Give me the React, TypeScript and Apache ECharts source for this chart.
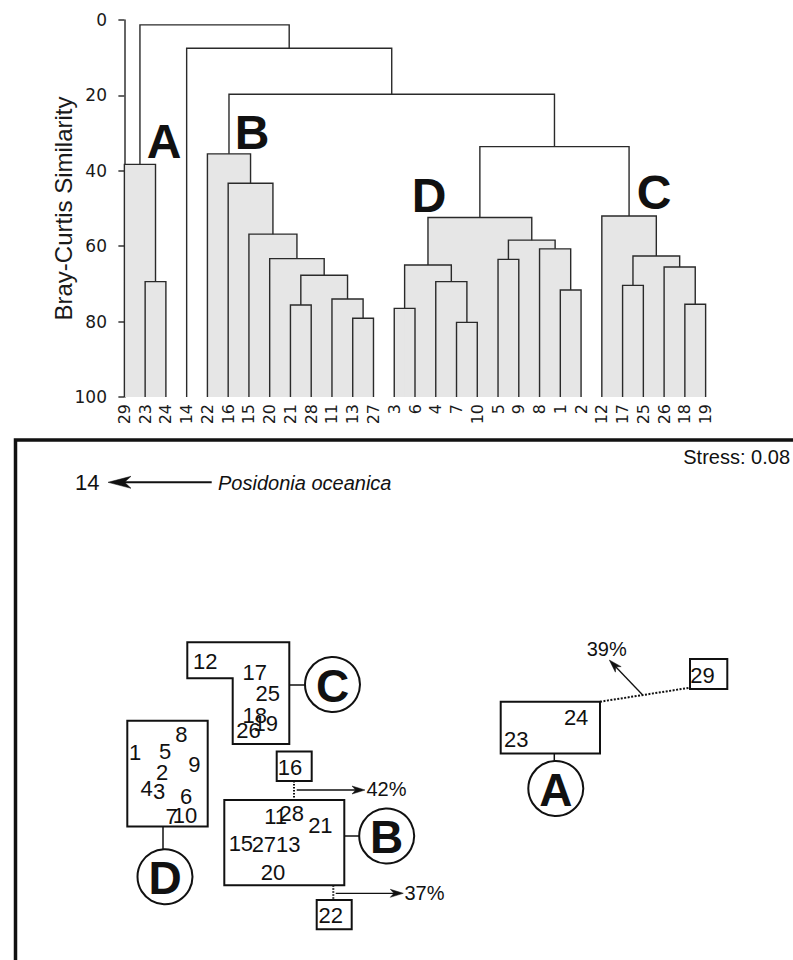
import React, { useEffect, useRef } from "react";
import * as echarts from "echarts";

// ---------- Dendrogram data ----------
const leaves = ["29","23","24","14","22","16","15","20","21","28","11","13","27","3","6","4","7","10","5","9","8","1","2","12","17","25","26","18","19"];

// [node, left child, right child, Bray-Curtis similarity of the join]
const merges: [string, string, string, number][] = [
  ["a1", "23", "24", 69.4],
  ["A", "29", "a1", 38.3],
  ["b1", "13", "27", 79.1],
  ["b2", "11", "b1", 74.0],
  ["b3", "21", "28", 75.6],
  ["b4", "b3", "b2", 67.7],
  ["b5", "20", "b4", 63.3],
  ["b6", "15", "b5", 56.8],
  ["b7", "16", "b6", 43.3],
  ["B", "22", "b7", 35.5],
  ["d1", "3", "6", 76.5],
  ["d2", "7", "10", 80.2],
  ["d3", "4", "d2", 69.4],
  ["d4", "d1", "d3", 65.0],
  ["d5", "5", "9", 63.5],
  ["d6", "1", "2", 71.6],
  ["d7", "8", "d6", 60.7],
  ["d8", "d5", "d7", 58.4],
  ["D", "d4", "d8", 52.4],
  ["c1", "17", "25", 70.4],
  ["c2", "18", "19", 75.4],
  ["c3", "26", "c2", 65.5],
  ["c4", "c1", "c3", 62.6],
  ["C", "12", "c4", 52.0],
  ["DC", "D", "C", 33.6],
  ["BDC", "B", "DC", 19.7],
  ["R2", "14", "BDC", 7.5],
  ["root", "A", "R2", 1.3],
];
const shadedClusters = ["A", "B", "C", "D"];
const simMin = 0;
const simMax = 100;
const simStep = 20;

// ---------- MDS ordination data ----------
const mdsLabels = ["14","12","17","25","18","26","19","8","1","5","9","2","4","3","6","7","10","16","11","28","21","15","27","13","20","22","24","23","29"];
const mdsX = [-1.56,-0.965,-0.715,-0.65,-0.715,-0.746,-0.66,-1.085,-1.318,-1.167,-1.019,-1.182,-1.261,-1.197,-1.061,-1.134,-1.067,-0.537,-0.61,-0.528,-0.384,-0.785,-0.669,-0.546,-0.623,-0.332,0.906,0.604,1.544];
const mdsY = [1.088,0.195,0.139,0.035,-0.075,-0.153,-0.117,-0.171,-0.261,-0.259,-0.323,-0.363,-0.44,-0.455,-0.483,-0.581,-0.575,-0.337,-0.58,-0.568,-0.627,-0.717,-0.722,-0.72,-0.863,-1.077,-0.086,-0.196,0.125];
const stressText = "Stress: 0.08";
const pctLabels = ["42%", "37%", "39%"];

const INK = "#111";
const SANS = "Liberation Sans, Arial, sans-serif";

function arrowHead(tx: number, ty: number, fx: number, fy: number, len: number, half: number) {
  const d = Math.hypot(tx - fx, ty - fy);
  const ux = (tx - fx) / d, uy = (ty - fy) / d;
  const px = -uy, py = ux;
  const bx = tx - ux * len, by = ty - uy * len;
  const nx = tx - ux * len * 0.72, ny = ty - uy * len * 0.72;
  return {
    type: "polygon",
    shape: { points: [[tx, ty], [bx + px * half, by + py * half], [nx, ny], [bx - px * half, by - py * half]] },
    style: { fill: INK, stroke: INK, lineWidth: 0.5 },
  };
}
function line(x1: number, y1: number, x2: number, y2: number, w = 1.3, dash?: number[]) {
  return { type: "line", shape: { x1, y1, x2, y2 }, style: { stroke: INK, lineWidth: w, lineDash: dash } };
}
function box(x: number, y: number, w: number, h: number) {
  return { type: "rect", shape: { x, y, width: w, height: h }, style: { fill: "none", stroke: INK, lineWidth: 2 } };
}
function text(t: string, x: number, y: number, size: number, opts: any = {}) {
  return {
    type: "text", x, y, z: 10,
    style: { text: t, fontSize: size, fontFamily: SANS, fill: INK, align: "center", verticalAlign: "middle", ...opts },
  };
}
function badge(letter: string, cx: number, cy: number) {
  return [
    { type: "circle", shape: { cx, cy, r: 27.5 }, style: { fill: "#fff", stroke: INK, lineWidth: 2 } },
    text(letter, cx, cy + 1, 46, { fontWeight: "bold" }),
  ];
}

export default function App() {
  const ref = useRef<HTMLDivElement>(null);
  useEffect(() => {
    if (!ref.current) return;
    const chart = echarts.init(ref.current, undefined, { renderer: "svg" });

    const pos: Record<string, number> = {};
    const hgt: Record<string, number> = {};
    const kids: Record<string, string[]> = {};
    leaves.forEach((l, i) => { pos[l] = i; hgt[l] = simMax; });
    merges.forEach(([n, l, r, s]) => { pos[n] = (pos[l] + pos[r]) / 2; hgt[n] = s; kids[n] = [l, r]; });
    const shaded = new Set<string>();
    const mark = (n: string) => { if (kids[n]) { shaded.add(n); kids[n].forEach(mark); } };
    shadedClusters.forEach(mark);
    const linkRows = merges.map(([, l, r, s]) => [pos[l], pos[r], hgt[l], hgt[r], s]);
    const shadeRows = merges.filter((m) => shaded.has(m[0])).map(([, l, r, s]) => [pos[l], pos[r], s]);

    const mdsData = mdsLabels.map((n, i) => ({ name: n, value: [mdsX[i], mdsY[i]] }));

    const g: any[] = [
      // frame of the ordination panel
      { type: "polyline", shape: { points: [[15.5, 1000], [15.5, 440], [810, 440]] }, style: { fill: "none", stroke: INK, lineWidth: 3.5 } },
      text(stressText, 790, 457, 20, { align: "right" }),
      // 14 <- Posidonia oceanica
      line(211.7, 482.3, 120, 482.3, 2),
      arrowHead(108, 482.3, 211.7, 482.3, 23, 6),
      text("Posidonia oceanica", 218, 483, 20, { align: "left", fontStyle: "italic" }),
      // group C
      { type: "polygon", shape: { points: [[187.3, 642.3], [289.3, 642.3], [289.3, 744], [232.7, 744], [232.7, 678.3], [187.3, 678.3]] }, style: { fill: "none", stroke: INK, lineWidth: 2 } },
      line(289.3, 685, 305, 685, 1.5),
      ...badge("C", 332.5, 684.5),
      // group D
      box(127.3, 720.8, 80.4, 105.7),
      line(163, 826.5, 163, 849, 1.5),
      ...badge("D", 165, 876.7),
      // group B
      box(276.7, 751.6, 35, 29.4),
      line(294, 781, 294, 800, 2, [1.5, 1.5]),
      line(296.7, 790, 356, 790, 1.3),
      arrowHead(365, 790, 296.7, 790, 13, 4),
      text(pctLabels[0], 366.5, 789, 20, { align: "left" }),
      box(224.3, 800, 120, 85.3),
      line(344.3, 836, 359, 836, 1.5),
      ...badge("B", 386.7, 836),
      box(316.7, 900, 35, 29.3),
      line(333.3, 885.3, 333.3, 900, 2, [1.5, 1.5]),
      line(335.7, 893.3, 395, 893.3, 1.3),
      arrowHead(403.3, 893.3, 335.7, 893.3, 13, 4),
      text(pctLabels[1], 404.5, 893, 20, { align: "left" }),
      // group A
      box(500.7, 701.7, 99.3, 51.7),
      line(600, 701.7, 690, 687.7, 2, [2, 1.5]),
      box(690, 659, 37.3, 30),
      line(642.7, 695, 614, 665, 1.3),
      arrowHead(609.3, 660, 642.7, 695, 13, 4),
      text(pctLabels[2], 606.7, 649, 20),
      line(554.3, 753.4, 554.3, 761, 1.5),
      ...badge("A", 555.8, 788.5),
      // cluster letters on the dendrogram
      text("A", 164.2, 141, 48, { fontWeight: "bold" }),
      text("B", 252.2, 132, 48, { fontWeight: "bold" }),
      text("D", 429, 195.5, 48, { fontWeight: "bold" }),
      text("C", 654, 192, 48, { fontWeight: "bold" }),
    ];

    chart.setOption({
      animation: false,
      backgroundColor: "#fff",
      grid: [
        { left: 114, top: 20, width: 602, height: 377 },
        { left: 0, top: 440, width: 800, height: 520 },
      ],
      xAxis: [
        {
          type: "category", gridIndex: 0, data: leaves, position: "bottom",
          axisLine: { show: false }, axisTick: { show: false }, splitLine: { show: false },
          axisLabel: { rotate: 90, fontSize: 16, fontFamily: "DejaVu Sans", color: "#1a1a1a", margin: 7, interval: 0 },
        },
        { type: "value", gridIndex: 0, min: -0.5, max: 28.5, show: false },
        { type: "value", gridIndex: 1, min: -2, max: 2, show: false },
      ],
      yAxis: [
        {
          type: "value", gridIndex: 0, inverse: true, min: simMin, max: simMax, interval: simStep,
          axisLine: { show: true, lineStyle: { color: "#333", width: 1.5 } },
          axisTick: { show: true, length: 6, lineStyle: { color: "#333", width: 1.5 } },
          splitLine: { show: false },
          axisLabel: { fontSize: 17, fontFamily: "DejaVu Sans", color: "#1a1a1a", margin: 7 },
          name: "Bray-Curtis Similarity", nameLocation: "middle", nameRotate: 90, nameGap: 39,
          nameMoveOverlap: false,
          nameTextStyle: { fontSize: 24, fontFamily: SANS, color: "#1a1a1a" },
        },
        { type: "value", gridIndex: 1, min: -1.3, max: 1.3, show: false },
      ],
      series: [
        {
          type: "custom", xAxisIndex: 1, yAxisIndex: 0, data: shadeRows, z: 1, silent: true,
          encode: { x: [0, 1], y: [2] },
          renderItem: (_p: any, api: any) => {
            const p1 = api.coord([api.value(0), api.value(2)]);
            const p2 = api.coord([api.value(1), simMax]);
            return { type: "rect", shape: { x: p1[0], y: p1[1], width: p2[0] - p1[0], height: p2[1] - p1[1] }, style: { fill: "#e6e6e6" } };
          },
        },
        {
          type: "custom", xAxisIndex: 1, yAxisIndex: 0, data: linkRows, z: 2, silent: true,
          encode: { x: [0, 1], y: [2, 3, 4] },
          renderItem: (_p: any, api: any) => {
            const xl = api.value(0), xr = api.value(1), hl = api.value(2), hr = api.value(3), h = api.value(4);
            const pts = [api.coord([xl, hl]), api.coord([xl, h]), api.coord([xr, h]), api.coord([xr, hr])];
            return { type: "polyline", shape: { points: pts }, style: { stroke: "#2a2a2a", lineWidth: 1.4, fill: "none" } };
          },
        },
        {
          type: "scatter", xAxisIndex: 2, yAxisIndex: 1, data: mdsData, symbolSize: 1, z: 5, silent: true,
          itemStyle: { color: "#fff", opacity: 1 },
          label: { show: true, position: "inside", formatter: "{b}", fontSize: 22, fontFamily: SANS, color: INK, opacity: 1, textBorderWidth: 0 },
        },
      ],
      graphic: { elements: g },
    });
    return () => chart.dispose();
  }, []);
  return <div ref={ref} style={{ position: "absolute", left: 0, top: 0, width: 793, height: 960 }} />;
}
